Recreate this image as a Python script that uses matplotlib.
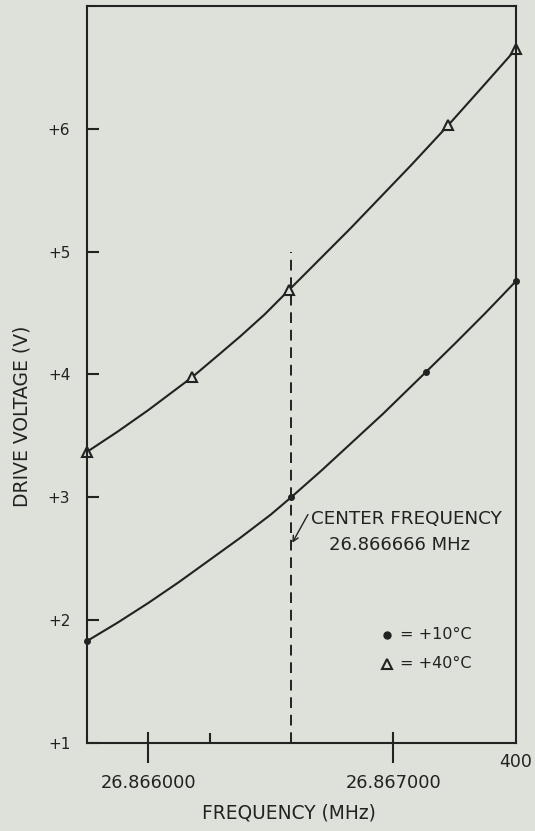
import matplotlib.pyplot as plt

# +10 C curve; frequency in MHz, voltage in V
freq_10 = [26.866000, 26.866100, 26.866200, 26.866300, 26.866400, 26.866500,
           26.866600, 26.866666, 26.866766, 26.866866, 26.866966, 26.867106,
           26.867200, 26.867300, 26.867400]
volt_10 = [1.83, 1.98, 2.14, 2.31, 2.49, 2.67, 2.86, 3.00, 3.22, 3.45, 3.68,
           4.02, 4.25, 4.50, 4.76]
dots_10 = [0, 7, 11, 14]  # points that carry a dot

# +40 C curve
freq_40 = [26.866000, 26.866100, 26.866200, 26.866344, 26.866420, 26.866500,
           26.866580, 26.866660, 26.866760, 26.866860, 26.866960, 26.867060,
           26.867179, 26.867290, 26.867400]
volt_40 = [3.37, 3.535, 3.71, 3.98, 4.14, 4.31, 4.49, 4.69, 4.94, 5.19, 5.45,
           5.71, 6.03, 6.34, 6.65]
tri_40 = [0, 3, 7, 12, 14]  # points that carry a triangle

center_freq = 26.866666
center_top = 5.0

x_major = [26.866200, 26.867000]
x_major_labels = ["26.866000", "26.867000"]
x_minor = [26.866400]
y_ticks = [1, 2, 3, 4, 5, 6]
y_labels = ["+1", "+2", "+3", "+4", "+5", "+6"]

paper = "#dde1d9"
ink = "#222222"

fig = plt.figure(figsize=(5.35, 8.31), dpi=100, facecolor=paper)
ax = fig.add_axes([87 / 535, 1 - 743 / 831, 429 / 535, 737 / 831])
ax.set_facecolor(paper)
ax.set_xlim(26.866000, 26.867400)
ax.set_ylim(1, 7)

for s in ax.spines.values():
    s.set_linewidth(1.5)
    s.set_color(ink)

ax.plot(freq_10, volt_10, color=ink, lw=1.5)
ax.plot([freq_10[i] for i in dots_10], [volt_10[i] for i in dots_10],
        ls="none", marker="o", ms=4, color=ink, clip_on=False)

ax.plot(freq_40, volt_40, color=ink, lw=1.5)
ax.plot([freq_40[i] for i in tri_40], [volt_40[i] for i in tri_40],
        ls="none", marker="^", ms=7, mfc=paper, mec=ink, mew=1.5, clip_on=False)

ax.plot([center_freq, center_freq], [1, center_top], color=ink, lw=1.4,
        dashes=(5.5, 3.5))

# ticks: major ones cross the axis, the minor one is inside only
ax.set_xticks(x_major)
ax.set_xticklabels(x_major_labels)
ax.set_xticks(x_minor, minor=True)
ax.tick_params(axis="x", which="major", direction="out", length=14.4, width=1.5,
               pad=8, labelsize=12.8, colors=ink)
ax.tick_params(axis="x", which="minor", direction="in", length=7.5, width=1.5,
               color=ink)
for xm in x_major:
    ax.plot([xm, xm], [0, 0.0136], color=ink, lw=1.5,
            transform=ax.get_xaxis_transform())
ax.set_yticks(y_ticks)
ax.set_yticklabels(y_labels)
ax.tick_params(axis="y", direction="in", length=8.6, width=1.5, pad=12,
               labelsize=11, colors=ink)

ax.annotate("400", xy=(26.867400, 1), xytext=(0, -14), textcoords="offset points",
            ha="center", va="center", fontsize=12.5, color=ink, annotation_clip=False)

# center frequency note
ax.annotate("", xy=(center_freq + 0.000004, 2.63), xytext=(26.866721, 2.86),
            arrowprops=dict(arrowstyle="->", color=ink, lw=1.0, shrinkA=0, shrinkB=0))
ax.text(26.867041, 2.82, "CENTER FREQUENCY", ha="center", va="center",
        fontsize=13.2, color=ink)
ax.text(26.867021, 2.61, "26.866666 MHz", ha="center", va="center",
        fontsize=13, color=ink)

# hand-drawn legend
ax.plot([26.866979], [1.88], ls="none", marker="o", ms=5, color=ink)
ax.text(26.867020, 1.88, "= +10°C", ha="left", va="center", fontsize=11.5, color=ink)
ax.plot([26.866979], [1.645], ls="none", marker="^", ms=7, mfc=paper, mec=ink, mew=1.5)
ax.text(26.867020, 1.645, "= +40°C", ha="left", va="center", fontsize=11.5, color=ink)

fig.text(289 / 535, 1 - 813 / 831, "FREQUENCY (MHz)", ha="center", va="center",
         fontsize=13.4, color=ink)
fig.text(22 / 535, 1 - 416 / 831, "DRIVE VOLTAGE (V)", ha="center", va="center",
         rotation=90, fontsize=13.5, color=ink)

fig.savefig("out.png", dpi=100, facecolor=paper)
